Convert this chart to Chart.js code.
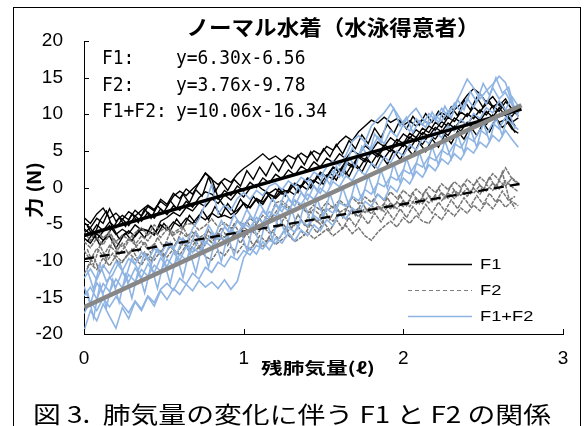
<!DOCTYPE html>
<html>
<head>
<meta charset="utf-8">
<script src="https://cdn.jsdelivr.net/npm/chart.js@4.4.1/dist/chart.umd.min.js"></script>
<style>
  html, body { margin: 0; padding: 0; background: #fff; }
  #wrap { width: 585px; height: 426px; }
</style>
</head>
<body>
<div id="wrap"><canvas id="chart" width="585" height="426"></canvas></div>
<script>
/* 残肺気量 (x) : two sampling grids */
const xs = [0,0.04,0.08,0.12,0.16,0.2,0.24,0.28,0.32,0.36,0.4,0.44,0.48,0.52,0.56,0.6,0.64,0.68,0.72,0.76,
  0.8,0.84,0.88,0.92,0.96,1,1.04,1.08,1.12,1.16,1.2,1.24,1.28,1.32,1.36,1.4,1.44,1.48,1.52,1.56,
  1.6,1.64,1.68,1.72,1.76,1.8,1.84,1.88,1.92,1.96,2,2.04,2.08,2.12,2.16,2.2,2.24,2.28,2.32,2.36,
  2.4,2.44,2.48,2.52,2.56,2.6,2.64,2.68,2.72];
const xs2 = [0.02,0.06,0.1,0.14,0.18,0.22,0.26,0.3,0.34,0.38,0.42,0.46,0.5,0.54,0.58,0.62,0.66,0.7,0.74,0.78,
  0.82,0.86,0.9,0.94,0.98,1.02,1.06,1.1,1.14,1.18,1.22,1.26,1.3,1.34,1.38,1.42,1.46,1.5,1.54,1.58,
  1.62,1.66,1.7,1.74,1.78,1.82,1.86,1.9,1.94,1.98,2.02,2.06,2.1,2.14,2.18,2.22,2.26,2.3,2.34,2.38,
  2.42,2.46,2.5,2.54,2.58,2.62,2.66,2.7];

/* F1 */
const f1a = [-4.8,-5.5,-4.2,-4.9,-2.9,-4.6,-3.8,-4.4,-3.1,-3.9,-2.6,-3.2,-1.6,-2.3,-0.8,-1.5,-0.2,-0.9,0.6,1.9,
  1.1,0.4,1.2,0.7,1.8,2.6,3.2,3.9,4.6,3.8,4.3,3.6,4.4,3.9,4.7,4.1,5.0,4.5,5.6,5.1,
  6.2,7.0,6.4,7.6,8.4,9.2,8.8,9.6,8.9,9.4,8.5,9.1,8.4,9.3,8.7,9.6,10.2,9.7,10.6,11.4,
  12.6,13.5,12.8,11.6,12.4,11.2,12.1,10.6,9.8];
const f1b = [-5.6,-6.4,-5.1,-5.9,-4.7,-5.5,-4.3,-5.2,-3.9,-4.6,-3.4,-4.2,-2.9,-3.7,-2.5,-3.1,-1.9,-2.7,-1.4,-0.6,
  -0.9,-1.6,-0.4,-1.1,0.2,-0.5,0.7,0.0,1.3,0.6,1.8,1.2,2.4,1.7,2.9,2.3,3.5,2.8,4.0,3.4,
  4.6,3.9,5.1,4.5,5.7,5.0,6.2,5.6,6.8,6.1,7.3,6.7,7.9,7.2,8.4,7.8,9.0,8.3,9.5,8.9,
  10.1,9.4,10.6,9.9,11.2,10.4,11.7,10.8,10.2];
const f1c = [-6.9,-7.6,-6.3,-7.2,-6.6,-8.3,-6.8,-5.9,-6.7,-5.6,-5.9,-6.4,-5.1,-5.8,-4.7,-5.3,-4.2,-4.9,-3.8,-4.4,
  -3.5,-4.1,-3.8,-4.2,-3.4,-2.1,-2.8,-1.6,-2.3,-0.9,-1.5,-0.6,-0.4,-1.0,0.3,-0.3,1.0,0.4,1.7,1.1,
  2.5,1.8,3.2,2.5,3.9,3.3,4.6,4.0,5.2,4.7,5.9,5.3,6.6,5.9,7.2,6.6,7.8,7.1,8.4,7.7,
  8.9,8.2,9.4,8.6,9.9,8.9,9.3,8.0,7.4];
const f1d = [-4.1,-4.9,-3.6,-2.8,-4.2,-3.5,-4.4,-3.3,-3.9,-3.1,-2.4,-3.0,-1.9,-2.6,-1.2,-0.5,-1.1,-0.2,0.6,2.0,
  1.2,-1.4,-2.6,-3.7,-3.1,-2.2,-2.7,-1.5,-2.0,-0.9,-1.3,-0.2,-0.7,0.6,0.1,1.3,0.8,2.1,1.5,2.8,
  2.3,3.6,3.0,4.3,3.8,5.1,4.5,5.8,5.3,6.6,6.0,7.4,6.8,8.1,7.5,8.9,8.2,9.6,9.0,10.3,
  9.7,11.0,10.2,11.8,11.0,11.6,10.4,9.7,10.9];
const f1e = [-6.2,-5.5,-7.1,-6.0,-5.2,-6.4,-5.7,-6.3,-5.1,-5.8,-5.9,-6.5,-4.6,-4.1,-3.4,-3.9,-2.7,-3.2,-2.1,-2.6,
  -1.5,-2.2,-1.0,-1.7,-0.6,-1.3,-0.1,0.4,-0.3,-0.8,-0.2,-0.9,-0.4,0.5,0.1,1.2,0.7,1.9,1.4,2.7,
  2.1,3.3,2.8,4.1,3.5,4.8,4.2,5.4,4.9,6.1,5.6,6.9,6.3,7.5,7.0,8.2,7.6,8.8,8.1,9.2,
  8.5,9.9,9.1,10.4,9.6,10.9,9.8,8.9,9.5];
const f1f = [-5.2,-6.8,-4.5,-3.2,-5.6,-4.1,-5.3,-3.6,-4.8,-2.9,-4.2,-2.5,-3.4,-1.8,-2.9,-0.9,-2.1,-0.3,-1.2,1.4,
  -0.6,0.8,-0.4,1.1,0.2,2.3,1.1,2.8,1.6,3.4,2.2,3.9,2.6,4.4,3.1,4.9,3.6,5.3,4.2,5.9,
  4.6,6.4,5.3,7.2,6.0,8.1,6.8,8.6,7.4,9.2,8.0,9.7,8.5,10.1,8.9,10.4,9.3,11.0,9.8,11.9,
  10.6,12.3,10.9,11.8,10.2,11.4,9.6,8.4];
const f1g = [-7.4,-6.1,-7.9,-6.6,-5.4,-7.0,-6.2,-7.3,-5.8,-6.9,-5.2,-6.4,-4.9,-5.9,-4.3,-5.5,-3.8,-4.9,-3.1,-4.4,
  -2.6,-3.9,-2.2,-3.4,-1.6,-2.9,-1.2,-2.3,-0.6,-1.8,-0.1,-1.2,0.5,-0.7,1.0,-0.1,1.6,0.4,2.1,1.0,
  2.7,1.5,3.3,2.1,3.8,2.7,4.4,3.2,5.0,3.8,5.5,4.4,6.1,4.9,6.6,5.5,7.2,6.0,7.7,6.6,
  8.3,7.1,8.8,7.6,9.4,8.2,9.0,7.5];

/* F2 */
const f2a = [-6.0,-7.3,-5.8,-6.9,-6.1,-7.4,-6.5,-7.1,-6.2,-5.5,-6.6,-5.1,-5.9,-5.3,-6.2,-5.6,-5.0,-4.9,-5.8,-5.2,
  -4.3,-5.4,-4.8,-5.6,-4.5,-5.1,-4.2,-4.9,-3.8,-4.5,-3.4,-2.2,-2.9,-1.8,-2.6,-3.3,-2.4,-3.1,-2.0,-2.8,
  -1.7,-2.5,-1.4,-2.2,-1.3,-2.0,-0.9,-1.8,-0.6,-1.5,-0.4,-1.2,-0.2,-1.0,0.1,-0.7,0.5,-0.3,0.8,0.0,
  1.1,0.3,1.4,0.6,1.9,1.0,2.7,1.2,0.4];
const f2b = [-8.6,-9.9,-8.3,-9.4,-7.9,-8.8,-7.6,-9.1,-8.2,-7.3,-8.5,-7.7,-8.9,-7.5,-8.1,-6.9,-7.8,-7.2,-8.3,-6.8,
  -7.5,-6.4,-7.3,-6.9,-6.0,-6.8,-5.7,-6.5,-5.3,-6.2,-5.6,-4.8,-5.9,-5.1,-4.5,-5.4,-4.2,-5.0,-3.9,-4.6,
  -3.5,-4.3,-3.2,-4.0,-2.8,-3.6,-2.5,-3.3,-2.1,-2.9,-1.8,-2.6,-1.4,-2.2,-1.1,-1.8,-0.7,-1.5,-0.4,-1.1,
  -0.1,-0.8,0.3,-0.5,0.6,-0.2,0.9,0.1,-0.6];
const f2c = [-11.8,-10.4,-11.2,-9.6,-10.7,-9.3,-10.2,-8.9,-9.8,-10.6,-9.1,-9.9,-8.7,-9.5,-8.4,-9.2,-7.9,-8.8,-8.2,-9.4,
  -9.9,-8.6,-9.3,-8.1,-8.9,-7.7,-8.5,-7.3,-8.1,-6.9,-7.8,-7.1,-6.5,-7.4,-6.8,-6.1,-7.0,-6.4,-5.7,-6.6,
  -5.9,-5.2,-6.3,-5.5,-6.6,-7.2,-6.1,-5.3,-4.6,-5.4,-4.1,-4.9,-3.8,-4.6,-4.9,-3.6,-4.4,-3.1,-3.9,-2.8,
  -3.5,-2.4,-3.2,-2.0,-2.9,-1.6,-2.7,-1.9,-2.5];
const f2d = [-7.4,-8.2,-6.9,-7.8,-6.4,-7.5,-8.1,-7.0,-7.8,-6.6,-7.3,-6.0,-6.8,-5.7,-6.5,-5.9,-6.7,-6.1,-6.9,-6.3,
  -7.0,-6.2,-6.8,-5.9,-6.5,-5.4,-6.1,-4.9,-5.6,-4.3,-2.1,-1.8,-2.6,-3.3,-2.7,-3.5,-3.0,-3.8,-3.2,-2.6,
  -3.4,-2.9,-3.6,-2.8,-3.4,-2.5,-3.1,-2.2,-2.9,-2.0,-2.6,-1.7,-2.3,-1.4,-2.1,-1.1,-1.8,-0.8,-1.5,-0.5,
  -1.2,-0.1,-0.9,0.4,-0.4,0.9,0.2,1.3,0.6];
const f2e = [-8.4,-10.6,-7.9,-9.8,-7.2,-9.1,-8.0,-6.6,-8.7,-7.4,-9.0,-6.8,-8.2,-6.1,-7.6,-5.4,-7.1,-6.0,-7.8,-5.8,
  -7.2,-5.5,-6.9,-5.0,-6.4,-4.6,-6.0,-4.2,-5.7,-3.9,-5.3,-4.0,-5.6,-3.7,-5.1,-3.3,-4.8,-2.9,-4.4,-2.6,
  -4.1,-2.3,-3.8,-2.0,-3.4,-1.7,-3.1,-1.4,-2.8,-1.1,-2.5,-0.8,-2.2,-0.4,-1.9,-0.1,-1.5,0.3,-1.2,0.6,
  -0.8,1.0,-0.5,1.5,-0.2,2.1,-1.4,-2.9];
const f2f = [-10.9,-9.4,-11.6,-10.1,-9.0,-10.5,-9.6,-8.4,-9.9,-8.8,-10.1,-8.5,-9.4,-8.0,-9.1,-7.6,-8.7,-7.3,-8.5,-7.0,
  -8.1,-6.8,-7.9,-6.4,-7.6,-6.2,-8.0,-6.6,-7.4,-6.0,-7.1,-5.6,-6.8,-5.3,-6.5,-5.0,-6.2,-4.7,-5.9,-4.4,
  -5.6,-4.1,-5.3,-3.8,-5.0,-3.5,-4.7,-3.2,-4.4,-2.9,-4.1,-2.6,-3.8,-2.3,-3.5,-2.0,-3.2,-1.7,-2.9,-1.4,
  -2.6,-1.1,-2.3,-0.8,-2.0,-0.5,-1.8,-1.2];

/* F1+F2 */
const f12a = [-12.4,-11.1,-12.6,-10.6,-11.8,-10.1,-11.4,-9.7,-10.5,-8.8,-9.9,-8.3,-9.2,-7.6,-8.4,-6.9,-7.7,-5.6,-4.3,-2.2,
  0.4,-3.6,-2.4,-3.1,-1.5,-0.7,-1.6,-0.4,-1.1,0.2,0.6,-0.3,0.9,0.2,1.4,0.8,2.1,1.5,2.8,3.6,
  3.0,4.4,6.3,7.1,6.2,8.4,9.3,10.2,11.4,10.1,8.7,9.9,10.8,9.4,8.6,9.8,9.1,10.4,11.2,12.9,
  14.8,13.6,12.1,13.2,14.1,15.2,14.3,11.5,9.6];
const f12b = [-14.8,-13.6,-15.2,-13.1,-14.2,-12.5,-13.7,-11.9,-12.8,-11.2,-12.1,-10.6,-11.4,-9.8,-10.7,-9.1,-9.9,-8.2,-8.9,-7.4,
  -8.1,-6.6,-7.3,-5.7,-6.4,-4.9,-5.5,-4.1,-4.8,-3.3,-3.9,-2.5,-3.2,-1.7,-2.3,-0.9,-1.6,-0.1,-0.8,0.8,
  0.1,1.6,0.9,2.5,1.7,3.3,2.6,4.2,3.4,5.0,4.3,5.9,5.1,6.7,6.0,7.6,6.8,8.4,7.7,9.3,
  8.5,10.1,9.4,10.9,10.2,11.8,10.6,12.4,11.1];
const f12c = [-19.6,-16.8,-18.2,-15.9,-17.6,-19.2,-16.4,-17.9,-15.6,-16.8,-14.9,-16.2,-14.1,-15.3,-13.8,-14.6,-13.2,-14.1,-12.7,-13.6,
  -12.9,-13.8,-12.6,-13.9,-12.8,-9.6,-8.2,-9.1,-7.4,-8.5,-6.9,-7.6,-6.2,-7.3,-5.8,-6.6,-5.1,-5.9,-4.4,-5.2,
  -3.6,-4.3,-2.8,-3.5,-1.9,-2.6,-0.9,-1.7,0.2,-0.6,1.3,0.5,2.2,1.4,3.1,2.3,3.9,3.2,4.6,3.8,
  5.4,4.7,6.2,5.5,7.1,6.3,7.8,6.6,5.5];
const f12d = [-17.2,-15.6,-16.8,-15.1,-16.3,-14.9,-16.0,-17.1,-15.5,-16.6,-14.8,-15.7,-13.9,-13.1,-14.0,-12.4,-13.2,-11.7,-12.5,-10.9,
  -11.6,-10.2,-10.8,-9.4,-9.9,-8.6,-9.2,-7.9,-8.4,-7.2,-7.6,-6.3,-5.4,-6.1,-4.6,-5.2,-3.8,-4.5,-2.9,-3.5,
  -2.1,-2.6,-1.2,-1.8,-0.3,-0.9,0.6,0.1,1.5,1.0,2.4,1.9,3.3,2.8,4.2,3.7,5.1,4.5,6.0,5.4,
  6.9,6.3,7.9,7.2,8.8,8.0,9.6,8.7,7.9];
const f12e = [-13.5,-15.9,-13.0,-14.4,-12.2,-13.6,-11.5,-12.9,-11.0,-12.3,-10.4,-11.6,-9.6,-10.8,-8.9,-9.9,-8.1,-8.9,-6.9,-7.8,
  -6.2,-7.1,-5.4,-6.3,-4.6,-5.5,-3.9,-4.8,-3.2,-4.1,-2.4,-3.3,-1.6,-2.5,-0.7,-1.7,0.2,-0.8,1.1,2.3,
  1.4,3.2,5.4,4.1,6.0,5.2,6.9,6.0,7.8,6.9,8.6,7.7,9.4,8.5,10.1,9.2,10.8,9.8,11.5,10.4,
  12.2,10.9,12.8,11.4,13.6,12.1,13.0,11.3,10.0];
const f12f = [-14.1,-17.8,-13.2,-16.4,-12.6,-15.7,-11.9,-15.1,-11.3,-14.4,-10.6,-13.8,-10.0,-13.1,-9.3,-12.3,-8.6,-11.6,-7.9,-10.9,
  -7.2,-10.1,-6.5,-9.3,-5.8,-8.6,-5.1,-7.8,-4.4,-7.1,-3.7,-6.3,-3.0,-5.6,-2.2,-4.8,-1.5,-4.1,-0.8,-3.3,
  0.0,-2.5,0.8,-1.7,1.6,-0.9,2.4,-0.1,3.2,0.7,4.0,1.5,4.8,2.3,5.6,3.1,6.4,3.9,7.2,4.7,
  8.0,5.5,8.8,6.3,9.6,7.1,10.4,8.0];
const f12g = [-11.2,-13.9,-10.5,-12.8,-11.9,-10.1,-12.4,-9.6,-11.3,-9.0,-10.6,-8.3,-9.8,-7.5,-9.1,-6.9,-8.2,-6.1,-7.4,-5.2,
  -6.6,-4.5,-5.9,-3.7,-5.1,-3.0,-4.4,-2.2,-3.6,-1.5,-2.8,-0.7,-2.1,0.1,-1.3,0.9,-0.5,1.8,0.4,2.9,
  1.5,4.1,2.8,5.6,4.2,7.3,6.1,9.2,10.8,8.4,9.6,7.5,9.1,8.2,10.3,8.8,11.1,9.5,12.0,10.6,
  13.1,11.7,14.2,12.6,15.0,12.9,13.7,10.5];

/* 近似直線 */
const fitNames = ['F1', 'F2', 'F1+F2'];
const fitSlope = [6.30, 3.76, 10.06];
const fitIntercept = [-6.56, -9.78, -16.34];
const fitRange = [0, 2.74];

const yTicks = [-20, -15, -10, -5, 0, 5, 10, 15, 20];
const xTicks = [0, 1, 2, 3];

const BLUE = 'rgb(142,180,227)';
const GRAY = 'rgb(118,118,118)';

function pts(ys, grid) {
  return ys.map(function (y, i) { return { x: grid[i], y: y }; });
}
function fitPts(k) {
  return fitRange.map(function (x) { return { x: x, y: fitSlope[k] * x + fitIntercept[k] }; });
}

const datasets = [];
[[f1a, xs], [f1b, xs], [f1c, xs], [f1d, xs], [f1e, xs], [f1f, xs2], [f1g, xs2]].forEach(function (s) {
  datasets.push({ data: pts(s[0], s[1]), borderColor: '#000', borderWidth: 1.4, order: 6 });
});
[[f2a, xs], [f2b, xs], [f2c, xs], [f2d, xs], [f2e, xs2], [f2f, xs2]].forEach(function (s) {
  datasets.push({ data: pts(s[0], s[1]), borderColor: GRAY, borderWidth: 1.5, borderDash: [4, 1], order: 5 });
});
[[f12a, xs], [f12b, xs], [f12c, xs], [f12d, xs], [f12e, xs], [f12f, xs2], [f12g, xs2]].forEach(function (s) {
  datasets.push({ data: pts(s[0], s[1]), borderColor: BLUE, borderWidth: 1.6, order: 4 });
});
datasets.push({ data: fitPts(0), borderColor: '#000', borderWidth: 3.5, order: 3 });
datasets.push({ data: fitPts(1), borderColor: '#000', borderWidth: 2.3, borderDash: [10, 6], order: 2 });
datasets.push({ data: fitPts(2), borderColor: 'rgb(135,135,135)', borderWidth: 4.5, order: 1 });
datasets.forEach(function (d) {
  d.showLine = true; d.pointRadius = 0; d.tension = 0; d.fill = false; d.borderCapStyle = 'butt';
});

function txt(ctx, s, x, y, font, align, targetW) {
  ctx.font = font;
  const w = ctx.measureText(s).width;
  const sx = targetW ? targetW / w : 1;
  ctx.save();
  ctx.translate(x, y);
  ctx.scale(sx, 1);
  ctx.textAlign = align;
  ctx.textBaseline = 'middle';
  ctx.fillStyle = '#000';
  ctx.fillText(s, 0, 0);
  ctx.restore();
}

const decor = {
  id: 'decor',
  beforeDraw: function (chart) {
    const ctx = chart.ctx;
    ctx.save();
    ctx.fillStyle = '#fff';
    ctx.fillRect(0, 0, chart.width, chart.height);
    ctx.strokeStyle = '#000';
    ctx.lineWidth = 1;
    ctx.strokeRect(13.5, 7.5, 567, 440);
    ctx.restore();
  },
  afterDraw: function (chart) {
    const ctx = chart.ctx;
    const xa = chart.scales.x, ya = chart.scales.y;
    const a = chart.chartArea;
    ctx.save();
    // tick marks pointing inward
    ctx.strokeStyle = '#000';
    ctx.lineWidth = 1;
    ctx.beginPath();
    yTicks.forEach(function (v) {
      const py = Math.round(ya.getPixelForValue(v)) + 0.5;
      ctx.moveTo(a.left, py); ctx.lineTo(a.left + 5, py);
    });
    xTicks.forEach(function (v) {
      const px = Math.round(xa.getPixelForValue(v)) + 0.5;
      ctx.moveTo(px, a.bottom); ctx.lineTo(px, a.bottom - 5);
    });
    ctx.stroke();

    // title
    txt(ctx, 'ノーマル水着（水泳得意者）', 333, 27, 'bold 21px "Noto Sans CJK JP"', 'center', 293);

    // equations
    const mono = '20px "DejaVu Sans Mono"';
    ctx.font = mono;
    const sx = 151 / ctx.measureText('y=10.06x-16.34').width;
    const eqs = ['y=6.30x-6.56', 'y=3.76x-9.78', 'y=10.06x-16.34'];
    const rows = [59, 85.5, 112];
    for (let k = 0; k < 3; k++) {
      ctx.font = mono;
      txt(ctx, fitNames[k] + ':', 102, rows[k], mono, 'left', ctx.measureText(fitNames[k] + ':').width * sx);
      ctx.font = mono;
      txt(ctx, eqs[k], 176, rows[k], mono, 'left', ctx.measureText(eqs[k]).width * sx);
    }

    // legend
    const lg = [
      { c: '#000', w: 1.5, d: [] },
      { c: 'rgb(128,128,128)', w: 1, d: [4, 3] },
      { c: BLUE, w: 1.5, d: [] }
    ];
    const ly = [264, 290, 316];
    for (let k = 0; k < 3; k++) {
      ctx.save();
      ctx.strokeStyle = lg[k].c;
      ctx.lineWidth = lg[k].w;
      ctx.setLineDash(lg[k].d);
      ctx.beginPath();
      ctx.moveTo(408, ly[k] + 0.5);
      ctx.lineTo(472, ly[k] + 0.5);
      ctx.stroke();
      ctx.restore();
      ctx.font = '15px "Liberation Sans"';
      const w = ctx.measureText(fitNames[k]).width * 1.22;
      txt(ctx, fitNames[k], 480, ly[k] + 1, '15px "Liberation Sans"', 'left', w);
    }

    // axis titles
    txt(ctx, '残肺気量(ℓ)', 318, 368, 'bold 16px "Noto Sans CJK JP"', 'center', 114);
    ctx.save();
    ctx.translate(34, 190);
    ctx.rotate(-Math.PI / 2);
    txt(ctx, '力 (N)', 0, 0, 'bold 18px "Noto Sans CJK JP"', 'center', 56);
    ctx.restore();

    // caption
    txt(ctx, '図 3.  肺気量の変化に伴う F1 と F2 の関係', 33, 414, '23px "Noto Sans CJK JP"', 'left', 518);
    ctx.restore();
  }
};

new Chart(document.getElementById('chart'), {
  type: 'scatter',
  data: { datasets: datasets },
  options: {
    responsive: false,
    animation: false,
    layout: { padding: { left: 0, right: 22, top: 41, bottom: 0 } },
    plugins: { legend: { display: false }, tooltip: { enabled: false }, title: { display: false } },
    scales: {
      x: {
        type: 'linear', min: 0, max: 3,
        afterFit: function (s) { s.height = 92; },
        ticks: { stepSize: 1, padding: 13, color: '#000', font: { family: '"Liberation Sans", Arial', size: 19 } },
        grid: { drawOnChartArea: false, drawTicks: false },
        border: { display: true, color: '#000', width: 1 }
      },
      y: {
        type: 'linear', min: -20, max: 20,
        afterFit: function (s) { s.width = 84; },
        ticks: { stepSize: 5, padding: 21, color: '#000', font: { family: '"Liberation Sans", Arial', size: 19 } },
        grid: { drawOnChartArea: false, drawTicks: false },
        border: { display: true, color: '#000', width: 1 }
      }
    }
  },
  plugins: [decor]
});
</script>
</body>
</html>
